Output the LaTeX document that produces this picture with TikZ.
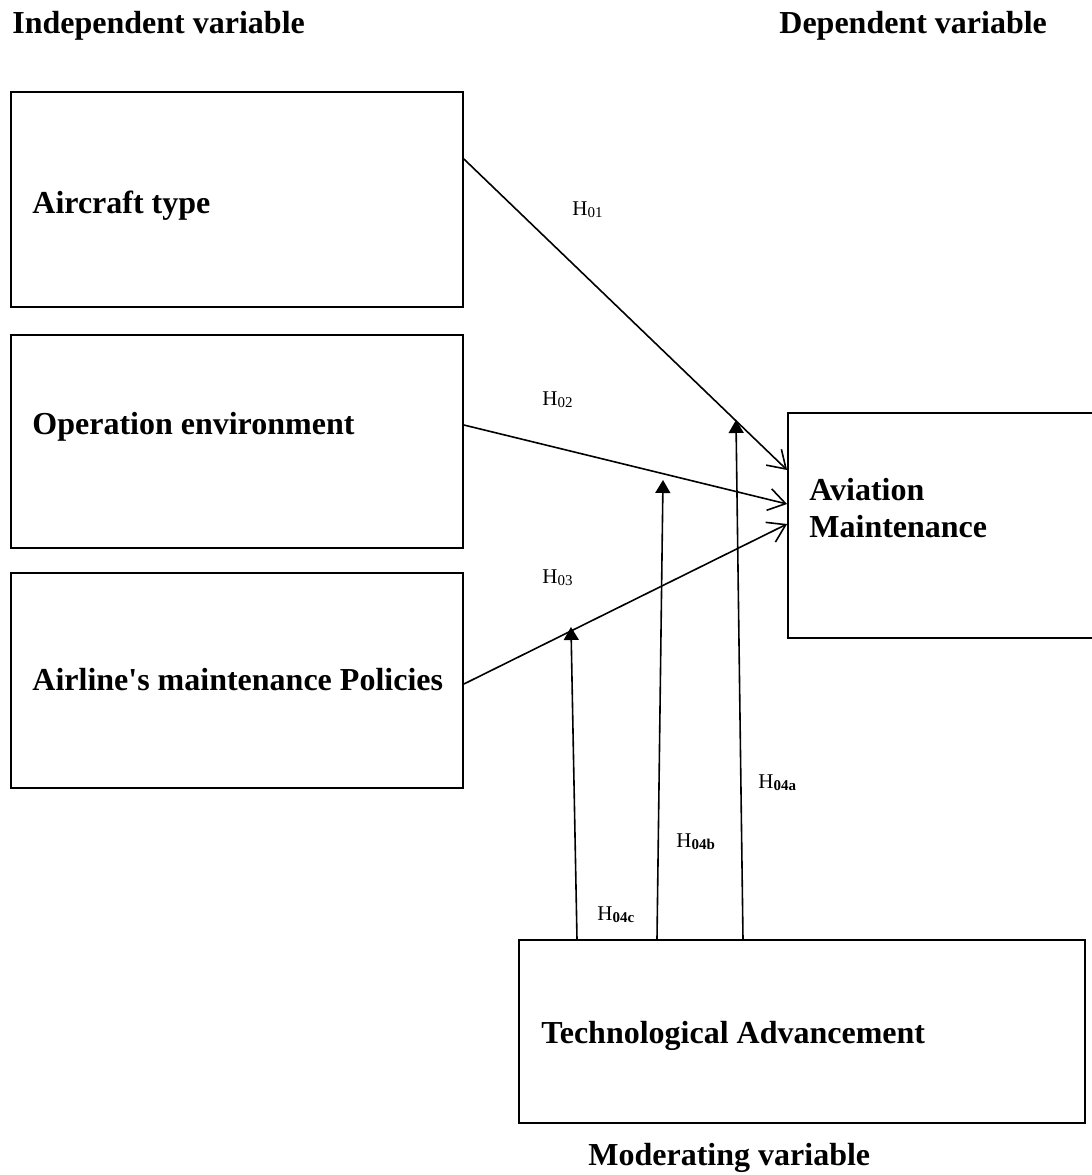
\documentclass[tikz,border=0pt]{standalone}
\usepackage{fontspec}
\setmainfont{Liberation Serif}[Ligatures=TeXOff]
\usetikzlibrary{arrows.meta,calc}
\begin{document}
\begin{tikzpicture}[x=0.5pt,y=-0.5pt,
  box/.style={draw,line width=0.9pt,rectangle,inner sep=0pt},
  btxt/.style={anchor=base west,inner sep=0pt,font=\fontsize{16}{18.5}\selectfont\bfseries},
  hlab/.style={anchor=base west,inner sep=0pt,font=\fontsize{10.5}{12}\selectfont},
  relarrow/.style={line width=0.8pt,-{Straight Barb[length=8.5pt,width=11pt,line width=0.8pt]}},
  modarrow/.style={line width=0.8pt,-{Triangle[length=6.5pt,width=7.5pt]}}
]
\useasboundingbox (0,0) rectangle (1092,1175);
% headings
\node[btxt] (hind) at (12,33) {Independent variable};
\node[btxt] (hdep) at (779,33) {Dependent variable};
\node[btxt] (hmod) at (588,1165) {Moderating variable};
% boxes
\node[box,minimum width=226pt,minimum height=107.5pt] (b1) at (237,199.5) {};
\node[box,minimum width=226pt,minimum height=106.5pt] (b2) at (237,441.5) {};
\node[box,minimum width=226pt,minimum height=107.5pt] (b3) at (237,680.5) {};
\node[box,minimum width=156pt,minimum height=112.5pt] (b4) at (944,525.5) {};
\node[box,minimum width=283pt,minimum height=91.5pt] (b5) at (802,1031.5) {};
% box texts
\node[btxt] (t1) at (32,213) {Aircraft type};
\node[btxt] (t2) at (32,434) {Operation environment};
\node[btxt] (t3) at (32,690) {Airline's maintenance Policies};
\node[btxt] (t4a) at (809,500) {Aviation};
\node[btxt] (t4b) at (809,537) {Maintenance};
\node[btxt] (t5) at (541,1043) {Technological Advancement};
% labels
\node[hlab] (h1) at (572,215) {H\raisebox{-1pt}{\fontsize{7.5}{8}\selectfont 01}};
\node[hlab] (h2) at (542,405) {H\raisebox{-1pt}{\fontsize{7.5}{8}\selectfont 02}};
\node[hlab] (h3) at (542,583) {H\raisebox{-1pt}{\fontsize{7.5}{8}\selectfont 03}};
\node[hlab] (h4a) at (758,788) {H\raisebox{-1pt}{\fontsize{7.5}{8}\selectfont\bfseries 04a}};
\node[hlab] (h4b) at (676,847) {H\raisebox{-1pt}{\fontsize{7.5}{8}\selectfont\bfseries 04b}};
\node[hlab] (h4c) at (597,920) {H\raisebox{-1pt}{\fontsize{7.5}{8}\selectfont\bfseries 04c}};
% relation arrows
\draw[relarrow] ([yshift=20.25pt]b1.east) -- ([yshift=27.75pt]b4.west);
\draw[relarrow] ([yshift=8.25pt]b2.east) -- ([yshift=10.75pt]b4.west);
\draw[relarrow] ([yshift=-1.75pt]b3.east) -- ([yshift=0.75pt]b4.west);
% moderating arrows
\coordinate (ta) at (736,420);
\coordinate (tb) at (663,480);
\coordinate (tc) at (571,627);
\draw[modarrow] ([xshift=-29.5pt]b5.north) -- (ta);
\draw[modarrow] ([xshift=-72.5pt]b5.north) -- (tb);
\draw[modarrow] ([xshift=-112.5pt]b5.north) -- (tc);
\end{tikzpicture}
\end{document}
